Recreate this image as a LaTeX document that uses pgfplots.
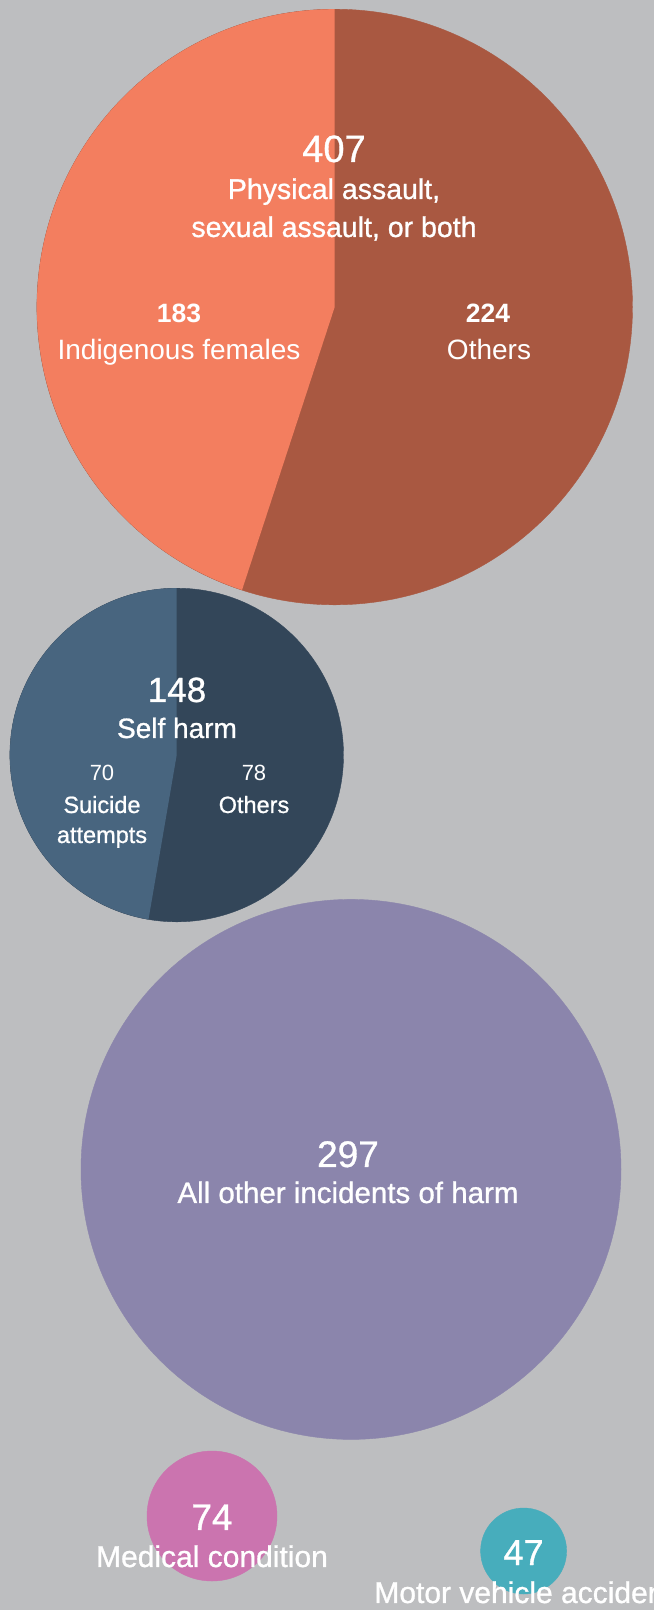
\documentclass[border=0pt]{standalone}
\usepackage{pgfplots}
\pgfplotsset{compat=1.18}
\usepackage{fontspec}
\setmainfont{Liberation Sans}
\newfontfamily\med[FakeBold=0.9]{Liberation Sans}
\definecolor{bgc}{HTML}{BDBEC0}
\definecolor{c1l}{HTML}{F37E5F}
\definecolor{c1d}{HTML}{A95841}
\definecolor{c2l}{HTML}{48657F}
\definecolor{c2d}{HTML}{334659}
\definecolor{c3}{HTML}{8B85AC}
\definecolor{c4}{HTML}{CB74AF}
\definecolor{c5}{HTML}{47ADBC}
\newcommand{\fs}[1]{\fontsize{#1}{#1}\selectfont}
\tikzset{lbl/.style={text=white, anchor=base, inner sep=0pt}}
\begin{document}
\begin{tikzpicture}
\path[use as bounding box] (0,0) rectangle (654pt,1610pt);
\clip (0,0) rectangle (654pt,1610pt);
\fill[bgc] (0,0) rectangle (654pt,1610pt);
\begin{axis}[at={(0,0)}, anchor=south west, x=1pt, y=1pt,
  xmin=0, xmax=654, ymin=0, ymax=1610, y dir=reverse,
  hide axis, clip=false]
% circles (whole value, dark part)
\addplot[only marks, mark=*, color=c1d, mark size=297.8pt] coordinates {(334.7,307)};
\addplot[only marks, mark=*, color=c2d, mark size=166.8pt] coordinates {(176.7,755)};
\addplot[only marks, mark=*, color=c3, mark size=270pt] coordinates {(351,1169.4)};
\addplot[only marks, mark=*, color=c4, mark size=65pt] coordinates {(212,1516)};
\addplot[only marks, mark=*, color=c5, mark size=43pt] coordinates {(523.6,1551)};
\coordinate (k1) at (axis cs:334.7,307);
\coordinate (k2) at (axis cs:176.7,755);
\coordinate (a1) at (axis cs:334,162);
\coordinate (a2) at (axis cs:334,199);
\coordinate (a3) at (axis cs:334,237);
\coordinate (a4) at (axis cs:179,323);
\coordinate (a5) at (axis cs:179,360);
\coordinate (a6) at (axis cs:488,323);
\coordinate (a7) at (axis cs:489,360);
\coordinate (b1) at (axis cs:177,702);
\coordinate (b2) at (axis cs:177,738);
\coordinate (b3) at (axis cs:102,781);
\coordinate (b4) at (axis cs:102,813);
\coordinate (b5) at (axis cs:102,843);
\coordinate (b6) at (axis cs:254,781);
\coordinate (b7) at (axis cs:254,813);
\coordinate (d1) at (axis cs:348,1167);
\coordinate (d2) at (axis cs:348,1203);
\coordinate (e1) at (axis cs:212,1530);
\coordinate (e2) at (axis cs:212,1567);
\coordinate (f1) at (axis cs:523.6,1565);
\coordinate (f2) at (axis cs:523.6,1603);
\end{axis}
% split wedges: 183 of 407, 70 of 148
\fill[c1l] (k1) -- ++(90:297.8pt) arc[start angle=90, end angle={90+183/407*360}, radius=297.8pt] -- cycle;
\fill[c2l] (k2) -- ++(90:166.8pt) arc[start angle=90, end angle={90+70/148*360}, radius=166.8pt] -- cycle;
% labels
\node[lbl] at (a1) {\med\fs{38}407};
\node[lbl] at (a2) {\med\fs{28.5}Physical assault,};
\node[lbl] at (a3) {\med\fs{28.5}sexual assault, or both};
\node[lbl] at (a4) {\fs{26.5}\bfseries 183};
\node[lbl] at (a5) {\fs{28}Indigenous females};
\node[lbl] at (a6) {\fs{26.5}\bfseries 224};
\node[lbl] at (a7) {\fs{28}Others};
\node[lbl] at (b1) {\med\fs{35}148};
\node[lbl] at (b2) {\med\fs{28}Self harm};
\node[lbl] at (b3) {\fs{22}70};
\node[lbl] at (b4) {\med\fs{23.5}Suicide};
\node[lbl] at (b5) {\med\fs{23.5}attempts};
\node[lbl] at (b6) {\fs{22}78};
\node[lbl] at (b7) {\med\fs{23.5}Others};
\node[lbl] at (d1) {\med\fs{37}297};
\node[lbl] at (d2) {\med\fs{29.5}All other incidents of harm};
\node[lbl] at (e1) {\med\fs{37}74};
\node[lbl] at (e2) {\med\fs{30}Medical condition};
\node[lbl] at (f1) {\med\fs{36}47};
\node[lbl] at (f2) {\med\fs{30}Motor vehicle accident};
\end{tikzpicture}
\end{document}
